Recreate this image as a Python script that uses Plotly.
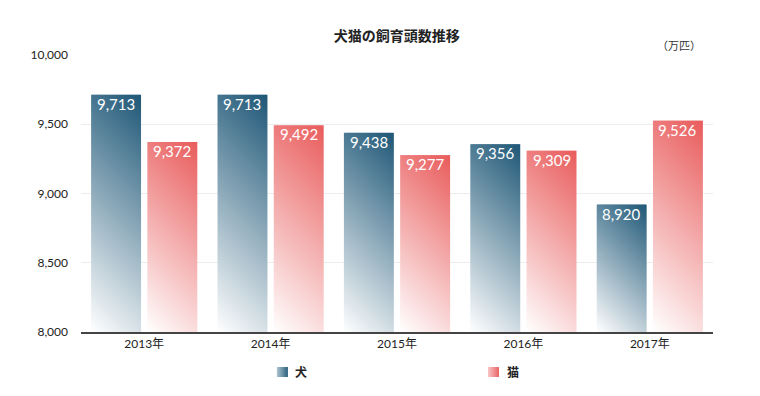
import base64
import struct
import zlib

import plotly.graph_objects as go

categories = ["2013年", "2014年", "2015年", "2016年", "2017年"]
dogs = [9713, 9713, 9438, 9356, 8920]
cats = [9372, 9492, 9277, 9309, 9526]
series_names = ["犬", "猫"]
y_ticks = [8000, 8500, 9000, 9500, 10000]

Y_MIN, Y_MAX = 8000, 10000
DOG_COLOR = (30, 87, 119)
CAT_COLOR = (233, 92, 92)
BAR_W = 0.395
GAP = 0.025
INSET = 0.008
PX_PER_CAT = 126.4
PX_PER_UNIT = 277 / 2000


def mix(c, t):
    t = max(0.0, min(1.0, t))
    return tuple(round(255 + (c[i] - 255) * t) for i in range(3))


def rgb(c):
    return f"rgb({c[0]},{c[1]},{c[2]})"


def png_uri(w, h, pixel):
    raw = bytearray()
    for yy in range(h):
        raw.append(0)
        for xx in range(w):
            raw.extend(pixel(xx, yy))

    def chunk(tag, data):
        return (struct.pack(">I", len(data)) + tag + data
                + struct.pack(">I", zlib.crc32(tag + data) & 0xFFFFFFFF))

    data = (b"\x89PNG\r\n\x1a\n"
            + chunk(b"IHDR", struct.pack(">IIBBBBB", w, h, 8, 2, 0, 0, 0))
            + chunk(b"IDAT", zlib.compress(bytes(raw), 9))
            + chunk(b"IEND", b""))
    return "data:image/png;base64," + base64.b64encode(data).decode()


def diag_gradient(color, w, h):
    def pixel(xx, yy):
        t = ((xx + 0.5) + (h - yy - 0.5)) / (w + h)
        return mix(color, t)
    return png_uri(w, h, pixel)


def horiz_gradient(color, w, h):
    def pixel(xx, yy):
        t = 0.35 + 0.6 * (xx + 0.5) / w
        return mix(color, t)
    return png_uri(w, h, pixel)


fig = go.Figure()
images = []
for name, values, color, off in ((series_names[0], dogs, DOG_COLOR, -BAR_W - GAP),
                                 (series_names[1], cats, CAT_COLOR, GAP)):
    # real bars (slightly inset so the gradient image on top covers them fully)
    fig.add_trace(go.Bar(
        x=categories, y=[v - Y_MIN for v in values], base=Y_MIN,
        offset=off + INSET, width=BAR_W - 2 * INSET, name=name,
        marker=dict(color=rgb(mix(color, 0.5)), line=dict(width=0)),
        hoverinfo="skip", showlegend=False,
    ))
    wpx = max(2, round(BAR_W * PX_PER_CAT))
    for k, v in enumerate(values):
        hpx = max(2, round((v - Y_MIN) * PX_PER_UNIT))
        images.append(dict(
            source=diag_gradient(color, wpx, hpx),
            xref="x", yref="y", x=k + off, y=v,
            sizex=BAR_W, sizey=v - Y_MIN,
            xanchor="left", yanchor="top", sizing="stretch", layer="above",
        ))

# custom legend squares (gradient)
legend_x = [0.310, 0.644]
legend_text_x = [0.348, 0.6835]
for lx, color in zip(legend_x, (DOG_COLOR, CAT_COLOR)):
    images.append(dict(
        source=horiz_gradient(color, 11, 10),
        xref="paper", yref="paper", x=lx, y=-0.1264,
        sizex=11 / 632, sizey=10 / 277,
        xanchor="left", yanchor="top", sizing="stretch", layer="above",
    ))

annotations = []
for k, (d, c) in enumerate(zip(dogs, cats)):
    for val, off in ((d, -BAR_W / 2 - GAP), (c, BAR_W / 2 + GAP)):
        annotations.append(dict(
            x=k + off, y=val, xref="x", yref="y", text=f"{val:,}",
            showarrow=False, yanchor="top", yshift=2,
            font=dict(family="Lato, sans-serif", size=15, color="white"),
        ))
for tx, name in zip(legend_text_x, series_names):
    annotations.append(dict(
        x=tx, y=-0.1444, xref="paper", yref="paper", text=f"<b>{name}</b>",
        showarrow=False, xanchor="center", yanchor="middle",
        font=dict(family="Noto Sans CJK JP", size=12, color="#222"),
    ))
annotations.append(dict(
    x=0.946, y=1.0, xref="paper", yref="paper", text="（万匹）",
    showarrow=False, xanchor="center", yanchor="middle", yshift=10,
    font=dict(family="Noto Sans CJK JP", size=11, color="#333"),
))

fig.update_layout(
    width=752, height=388,
    barmode="overlay",
    plot_bgcolor="white", paper_bgcolor="white",
    margin=dict(l=73, r=47, t=47, b=64),
    title=dict(text="<b>犬猫の飼育頭数推移</b>", x=0.517, xanchor="center",
               y=0.928, yanchor="middle",
               font=dict(family="Noto Sans CJK JP", size=14, color="#222")),
    xaxis=dict(type="category", categoryorder="array", categoryarray=categories,
               range=[-0.5, 4.5], showline=True, linecolor="#444", linewidth=1.5,
               showgrid=False, ticks="", zeroline=False,
               tickfont=dict(family="Lato, Noto Sans CJK JP", size=12, color="#222")),
    yaxis=dict(range=[Y_MIN, Y_MAX], tickvals=y_ticks, tickformat=",",
               showgrid=True, gridcolor="#ececec", gridwidth=1, zeroline=False,
               ticks="", ticklabelstandoff=12,
               tickfont=dict(family="Lato, sans-serif", size=12, color="#222")),
    images=images,
    annotations=annotations,
    showlegend=False,
)

fig.write_html("out.html")
